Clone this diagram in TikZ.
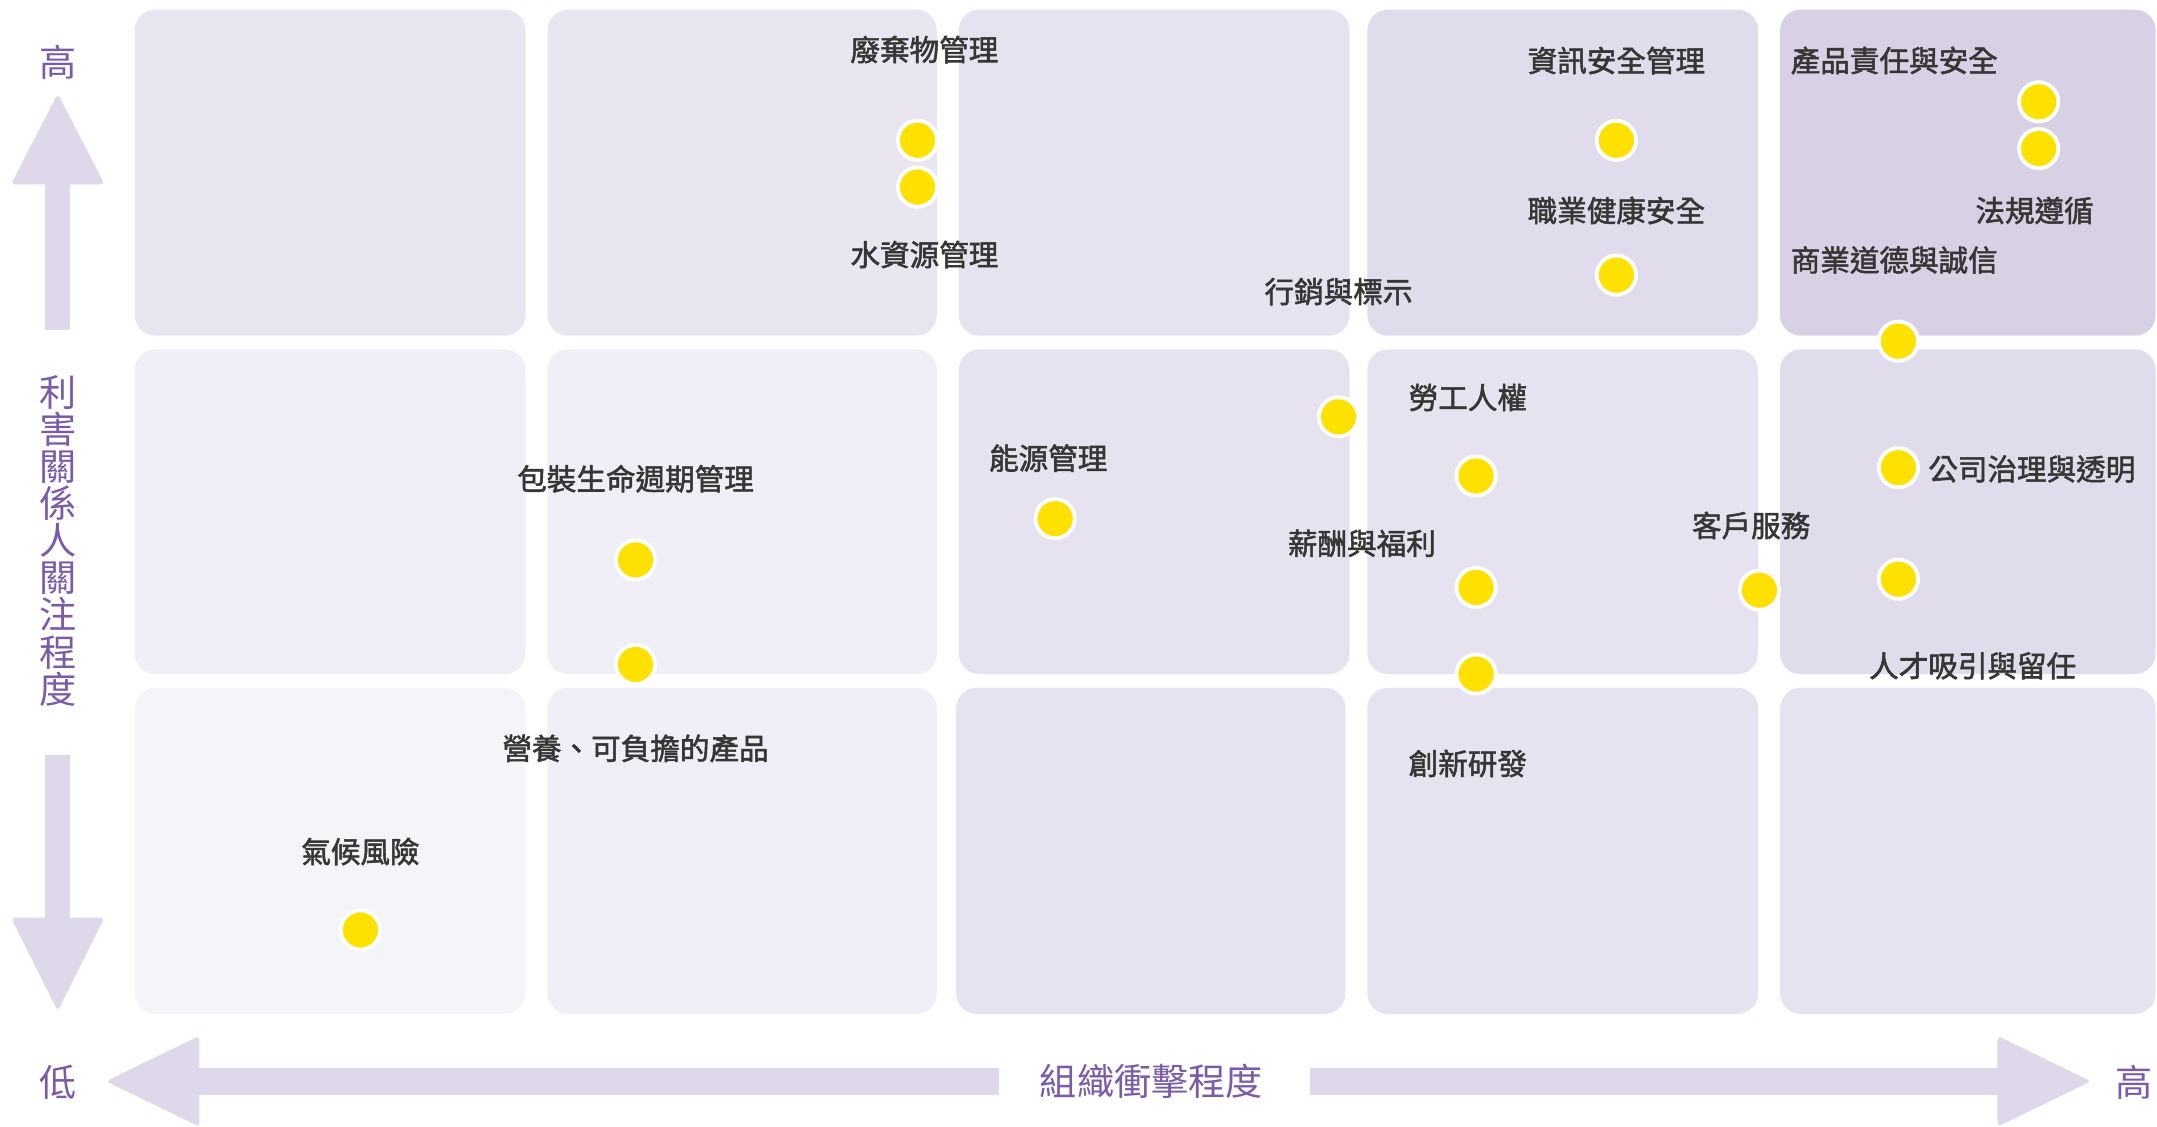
\documentclass[tikz,border=0pt]{standalone}
\usepackage{fontspec}
\newfontfamily\cjk{Noto Sans CJK TC}
\newfontfamily\cjkb[FakeBold=1.8]{Noto Sans CJK TC}
\definecolor{ca}{HTML}{E9E6F1}
\definecolor{cb}{HTML}{E6E2EF}
\definecolor{cc}{HTML}{E1DCEB}
\definecolor{cd}{HTML}{D8D0E5}
\definecolor{ce}{HTML}{F0EEF6}
\definecolor{cf}{HTML}{F5F4F9}
\definecolor{arrc}{HTML}{DED8EA}
\definecolor{axc}{HTML}{7A5BA8}
\definecolor{labc}{HTML}{383535}
\definecolor{dotc}{HTML}{FFE100}
\begin{document}
\begin{tikzpicture}[x=1pt,y=-1pt,
  box/.style={rounded corners=15pt},
  lab/.style={text=labc, font=\cjkb\fontsize{21.5}{24}\selectfont, inner sep=0pt},
  axl/.style={text=axc, font=\cjk\fontsize{27}{27}\selectfont, inner sep=0pt},
  arr/.style={fill=arrc, draw=none},
  dotn/.style={circle, fill=dotc, draw=white, line width=2.8pt, minimum size=28.5pt, inner sep=0pt}]
\useasboundingbox (0,0) rectangle (1568,819);
\fill[white] (0,0) rectangle (1568,819);
% grid boxes
\fill[ca,box] (98,7) rectangle (382,244);
\fill[ca,box] (398,7) rectangle (681,244);
\fill[cb,box] (697,7) rectangle (981,244);
\fill[cc,box] (994,7) rectangle (1278,244);
\fill[cd,box] (1294,7) rectangle (1567,244);
\fill[ce,box] (98,254) rectangle (382,490);
\fill[ce,box] (398,254) rectangle (681,490);
\fill[cb,box] (697,254) rectangle (981,490);
\fill[cb,box] (994,254) rectangle (1278,490);
\fill[cc,box] (1294,254) rectangle (1567,490);
\fill[cf,box] (98,500) rectangle (382,737);
\fill[ce,box] (398,500) rectangle (681,737);
\fill[cb,box] (695,500) rectangle (978,737);
\fill[cb,box] (994,500) rectangle (1278,737);
\fill[cb,box] (1294,500) rectangle (1567,737);
% vertical axis arrows
\fill[arr,rounded corners=3pt] (42,68) -- (76,134) -- (8,134) -- cycle;
\fill[arr] (33,133) rectangle (51,240);
\fill[arr] (33,549) rectangle (51,668);
\fill[arr,rounded corners=3pt] (8,667) -- (76,667) -- (42,735) -- cycle;
% horizontal axis arrows
\fill[arr,rounded corners=3pt] (77,786) -- (145,753) -- (145,819) -- cycle;
\fill[arr] (144,776) rectangle (726,796);
\fill[arr] (952,776) rectangle (1453,796);
\fill[arr,rounded corners=3pt] (1452,753) -- (1520,786) -- (1452,819) -- cycle;
% axis labels
\node[axl] (yhigh) at (42,45) {高};
\node[axl, align=center, font=\cjk\fontsize{27}{27}\selectfont] (ytitle) at (42,393) {利\\害\\關\\係\\人\\關\\注\\程\\度};
\node[axl] (ylow) at (42,787) {低};
\node[axl] (xtitle) at (837,786) {組織衝擊程度};
\node[axl] (xhigh) at (1551,787) {高};
% dots
\node[dotn] (d1) at (667,102) {};
\node[dotn] (d2) at (667,136) {};
\node[dotn] (d3) at (1175,102) {};
\node[dotn] (d4) at (1175,200) {};
\node[dotn] (d5) at (1482,74) {};
\node[dotn] (d6) at (1482,108) {};
\node[dotn] (d7) at (1380,248) {};
\node[dotn] (d8) at (973,303) {};
\node[dotn] (d9) at (1073,346) {};
\node[dotn] (d10) at (767,377) {};
\node[dotn] (d11) at (1073,427) {};
\node[dotn] (d12) at (1073,490) {};
\node[dotn] (d13) at (1279,429) {};
\node[dotn] (d14) at (1380,340) {};
\node[dotn] (d15) at (1380,421) {};
\node[dotn] (d16) at (462,407) {};
\node[dotn] (d17) at (462,483) {};
\node[dotn] (d18) at (262,676) {};
% labels
\node[lab] (l1) at (672,36) {廢棄物管理};
\node[lab] (l2) at (672,185) {水資源管理};
\node[lab] (l3) at (1175,44) {資訊安全管理};
\node[lab] (l4) at (1175,153) {職業健康安全};
\node[lab] (l5) at (1377,44) {產品責任與安全};
\node[lab] (l6) at (1479,153) {法規遵循};
\node[lab] (l7) at (1377,189) {商業道德與誠信};
\node[lab] (l8) at (973,212) {行銷與標示};
\node[lab] (l9) at (1067,289) {勞工人權};
\node[lab] (l10) at (762,333) {能源管理};
\node[lab] (l11) at (990,395) {薪酬與福利};
\node[lab] (l12) at (1067,555) {創新研發};
\node[lab] (l13) at (1273,382) {客戶服務};
\node[lab] (l14) at (1477,341) {公司治理與透明};
\node[lab] (l15) at (1434,484) {人才吸引與留任};
\node[lab] (l16) at (462,348) {包裝生命週期管理};
\node[lab] (l17) at (462,544) {營養、可負擔的產品};
\node[lab] (l18) at (262,619) {氣候風險};
\end{tikzpicture}
\end{document}
